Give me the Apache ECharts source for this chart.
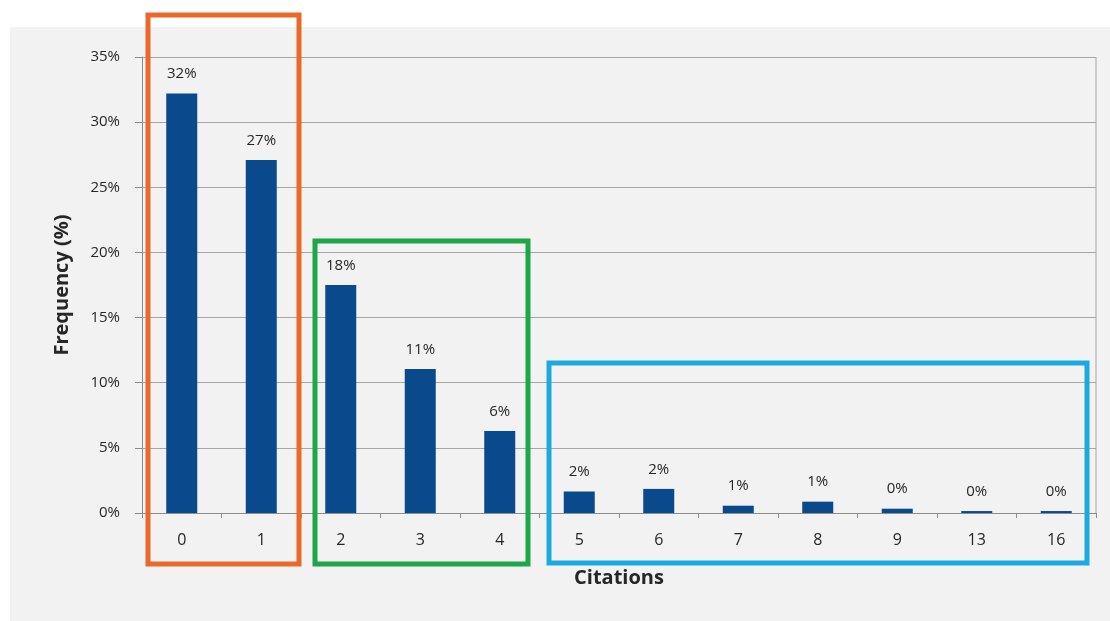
<!DOCTYPE html>
<html>
<head>
<meta charset="utf-8">
<script src="https://cdn.jsdelivr.net/npm/echarts@6/dist/echarts.min.js"></script>
<style>
html,body{margin:0;padding:0;background:#fff;}
#c{width:1110px;height:621px;}
</style>
</head>
<body>
<div id="c"></div>
<script>
var categories = ['0','1','2','3','4','5','6','7','8','9','13','16'];
var frequency = [32.2, 27.1, 17.5, 11.05, 6.3, 1.65, 1.85, 0.56, 0.87, 0.33, 0.15, 0.15];
var yTicks = [0, 5, 10, 15, 20, 25, 30, 35];
var xTitle = 'Citations';
var yTitle = 'Frequency (%)';

var FONT = '"Open Sans", Lato, sans-serif';
var chart = echarts.init(document.getElementById('c'));
chart.setOption({
  animation: false,
  backgroundColor: '#ffffff',
  grid: {left: 142, right: 14, top: 57, bottom: 108, show: false},
  xAxis: {
    type: 'category',
    data: categories,
    name: xTitle,
    nameLocation: 'middle',
    nameGap: 55,
    nameTextStyle: {fontFamily: FONT, fontSize: 20, fontWeight: 'bold', color: '#262626'},
    axisLine: {show: true, lineStyle: {color: '#8c8c8c', width: 1}},
    axisTick: {show: true, length: 5, lineStyle: {color: '#8c8c8c'}},
    axisLabel: {fontFamily: FONT, fontSize: 16, color: '#262626', margin: 19},
    splitLine: {show: false}
  },
  yAxis: {
    type: 'value',
    min: yTicks[0],
    max: yTicks[yTicks.length - 1],
    interval: 5,
    name: yTitle,
    nameLocation: 'middle',
    nameGap: 70,
    nameTextStyle: {fontFamily: FONT, fontSize: 20, fontWeight: 'bold', color: '#262626'},
    axisLine: {show: true, lineStyle: {color: '#8c8c8c', width: 1}},
    axisTick: {show: true, length: 7, lineStyle: {color: '#8c8c8c'}},
    axisLabel: {fontFamily: FONT, fontSize: 15, color: '#262626', margin: 22, formatter: '{value}%'},
    splitLine: {show: true, lineStyle: {color: '#a6a6a6', width: 1}}
  },
  graphic: [
    {type: 'rect', z: -10, silent: true, shape: {x: 10, y: 27, width: 1100, height: 594}, style: {fill: '#f2f2f2'}},
    {type: 'line', z: 1, silent: true, shape: {x1: 1096, y1: 57, x2: 1096, y2: 513}, style: {stroke: '#a6a6a6', lineWidth: 1}},
    {type: 'rect', z: 100, silent: true, shape: {x: 148, y: 15, width: 151, height: 549}, style: {fill: 'none', stroke: '#E8692A', lineWidth: 5}},
    {type: 'rect', z: 100, silent: true, shape: {x: 315, y: 241, width: 213, height: 323}, style: {fill: 'none', stroke: '#1DA64A', lineWidth: 5}},
    {type: 'rect', z: 100, silent: true, shape: {x: 549, y: 363, width: 538, height: 200}, style: {fill: 'none', stroke: '#1BA9E0', lineWidth: 5}}
  ],
  series: [{
    type: 'bar',
    data: frequency,
    barWidth: '39%',
    itemStyle: {color: '#0a4a8c'},
    label: {
      show: true,
      position: 'top',
      distance: 12,
      fontFamily: FONT,
      fontSize: 15,
      color: '#262626',
      formatter: function (p) { return Math.round(p.value) + '%'; }
    }
  }]
});
</script>
</body>
</html>
